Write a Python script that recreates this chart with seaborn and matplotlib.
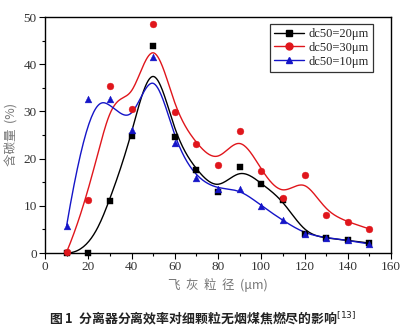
import numpy as np
import pandas as pd
import matplotlib
matplotlib.use("Agg")
import matplotlib.pyplot as plt
import seaborn as sns
from matplotlib.lines import Line2D

sns.set_theme(style="white")
plt.rcParams['font.family'] = ['Liberation Serif', 'Noto Sans CJK SC', 'DejaVu Sans']

x_vals = [10, 20, 30, 40, 50, 60, 70, 80, 90, 100, 110, 120, 130, 140, 150]
y_dc20 = [0.0, 0.0, 11.0, 24.7, 43.8, 24.5, 17.5, 12.9, 18.3, 14.7, 11.3, 4.1, 3.1, 2.7, 2.1]
y_dc30 = [0.2, 11.2, 35.3, 30.6, 48.5, 29.9, 23.1, 18.6, 25.8, 17.4, 11.6, 16.5, 8.1, 6.6, 5.1]
y_dc10 = [5.8, 32.6, 32.6, 26.0, 41.6, 23.3, 15.8, 13.5, 13.6, 10.0, 6.9, 4.1, 3.2, 2.7, 1.9]
series_names = ["dc50=20μm", "dc50=30μm", "dc50=10μm"]
colors = ["#000000", "#e0161c", "#1515c8"]
markers = ["s", "o", "^"]
marker_z = [3, 5, 4]


def bspline(px, py, n=400, k=3):
    px = np.asarray(px, float)
    py = np.asarray(py, float)
    m = len(px)
    knots = np.concatenate([np.zeros(k), np.arange(m - k + 1), np.full(k, m - k)]).astype(float)
    u = np.linspace(0, m - k, n)
    u[-1] -= 1e-9

    def basis(i, p, t):
        if p == 0:
            return ((knots[i] <= t) & (t < knots[i + 1])).astype(float)
        d1 = knots[i + p] - knots[i]
        d2 = knots[i + p + 1] - knots[i + 1]
        left = (t - knots[i]) / d1 * basis(i, p - 1, t) if d1 > 0 else 0.0
        right = (knots[i + p + 1] - t) / d2 * basis(i + 1, p - 1, t) if d2 > 0 else 0.0
        return left + right

    B = np.array([basis(i, k, u) for i in range(m)])
    return B.T @ px, B.T @ py


fig = plt.figure(figsize=(4.05, 3.31), dpi=100)
ax = fig.add_axes([45 / 405, 78 / 331, 346 / 405, 236 / 331])

all_series = [y_dc20, y_dc30, y_dc10]
for name, ys, c in zip(series_names, all_series, colors):
    sx, sy = bspline(x_vals, ys)
    df = pd.DataFrame({"x": sx, "y": sy})
    sns.lineplot(data=df, x="x", y="y", sort=False, color=c, lw=1.0, ax=ax, zorder=2)

for name, ys, c, mk, z in zip(series_names, all_series, colors, markers, marker_z):
    df = pd.DataFrame({"x": x_vals, "y": ys})
    sns.scatterplot(data=df, x="x", y="y", color=c, marker=mk, s=24, edgecolor=c,
                    linewidth=0.3, ax=ax, zorder=z, clip_on=False)

ax.set_xlim(0, 160)
ax.set_ylim(0, 50)
ax.set_xticks(np.arange(0, 161, 20))
ax.set_yticks(np.arange(0, 51, 10))
ax.set_xticks(np.arange(10, 160, 20), minor=True)
ax.set_yticks(np.arange(5, 50, 10), minor=True)
ax.tick_params(axis='both', which='major', direction='out', length=4, width=0.8,
               labelsize=9.5, labelcolor='#333333', color='black', pad=2)
ax.tick_params(axis='both', which='minor', direction='out', length=2, width=0.8, color='black')
ax.tick_params(top=False, right=False, bottom=True, left=True, which='both')
for s in ax.spines.values():
    s.set_color('black')
    s.set_linewidth(1.0)

ax.set_xlabel("飞  灰  粒  径  (μm)", fontsize=9, color='#777777',
              family=['Noto Sans CJK SC', 'DejaVu Sans'], labelpad=3)
ax.set_ylabel("含碳量  (%)", fontsize=9, color='#777777',
              family=['Noto Sans CJK SC', 'DejaVu Sans'], labelpad=4)

handles = [Line2D([0], [0], color=c, marker=mk, markersize=5, lw=1.0, markeredgecolor=c)
           for c, mk in zip(colors, markers)]
leg = ax.legend(handles, series_names, loc='upper right', bbox_to_anchor=(0.947, 0.972),
                fontsize=9, frameon=True, fancybox=False, edgecolor='black',
                handlelength=2.4, handletextpad=0.3, labelspacing=0.15, borderpad=0.35,
                borderaxespad=0.0)
leg.get_frame().set_linewidth(0.9)

fig.text(203 / 405, 1 - 318 / 331, "图 1  分离器分离效率对细颗粒无烟煤焦燃尽的影响$^{[13]}$",
         ha='center', va='center', fontsize=9.3, fontweight='bold', color='#222222',
         family=['Noto Sans CJK SC', 'DejaVu Sans'])

fig.savefig("out.png", dpi=100, facecolor='white')
